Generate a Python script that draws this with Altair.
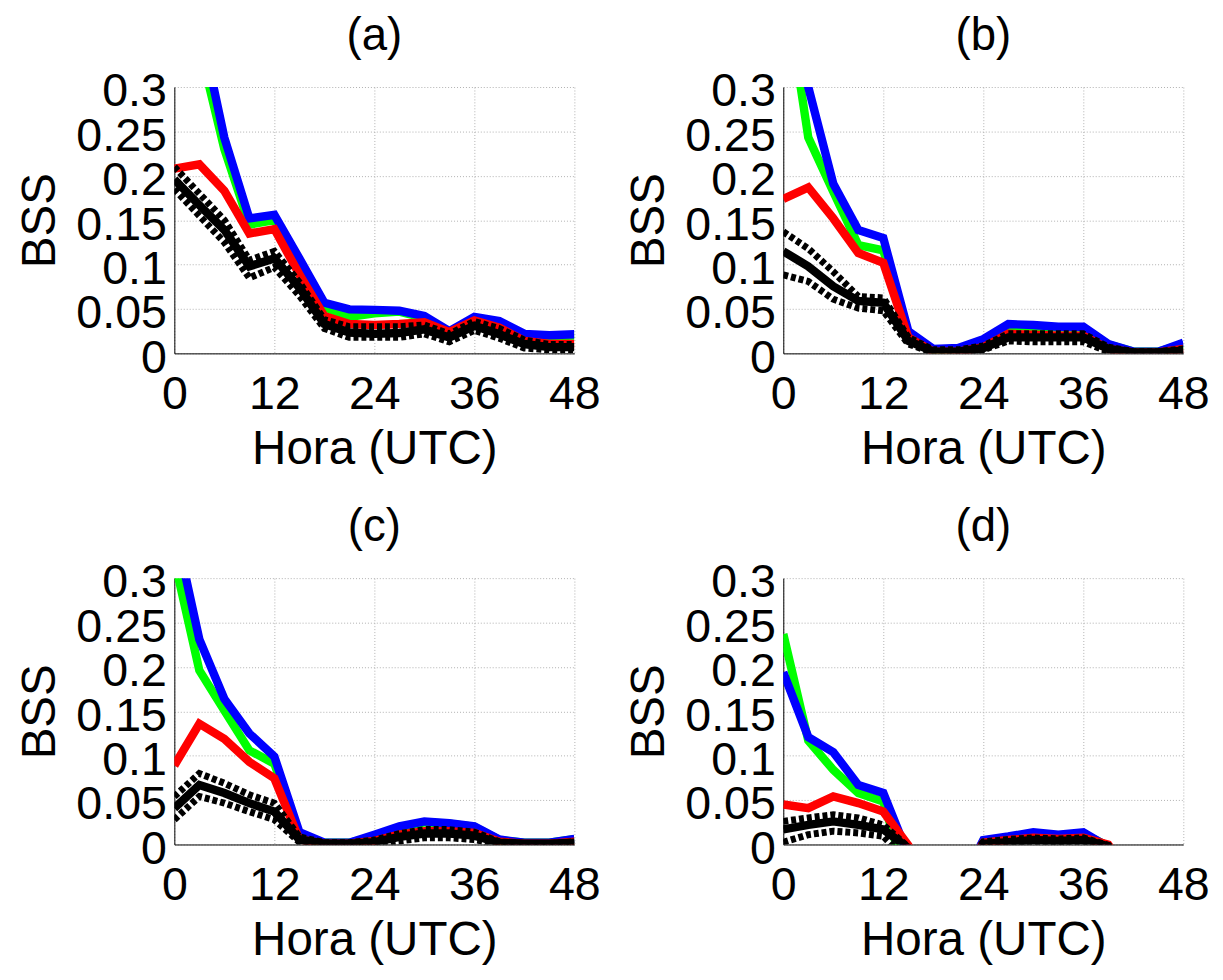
import altair as alt
import pandas as pd

HOURS = [0, 3, 6, 9, 12, 15, 18, 21, 24, 27, 30, 33, 36, 39, 42, 45, 48]
PANELS = ["(a)", "(b)", "(c)", "(d)"]
X_TICKS = [0, 12, 24, 36, 48]
Y_TICKS = [0, 0.05, 0.1, 0.15, 0.2, 0.25, 0.3]

# Panel (a)
A_GREEN = [0.40, 0.347, 0.230, 0.145, 0.150, 0.100, 0.052, 0.041, 0.045, 0.047, 0.040, 0.024, 0.040, 0.035, 0.021, 0.019, 0.020]
A_BLUE = [0.50, 0.375, 0.243, 0.152, 0.156, 0.107, 0.057, 0.0495, 0.049, 0.048, 0.042, 0.025, 0.041, 0.0365, 0.022, 0.0205, 0.0215]
A_RED = [0.208, 0.213, 0.183, 0.135, 0.140, 0.089, 0.042, 0.033, 0.032, 0.033, 0.035, 0.024, 0.037, 0.029, 0.014, 0.0105, 0.0105]
A_BLACK = [0.196, 0.167, 0.139, 0.098, 0.107, 0.074, 0.033, 0.0235, 0.022, 0.023, 0.027, 0.018, 0.031, 0.0215, 0.0105, 0.007, 0.007]
A_HI = [0.210, 0.180, 0.150, 0.105, 0.115, 0.080, 0.038, 0.030, 0.030, 0.030, 0.032, 0.022, 0.036, 0.028, 0.015, 0.010, 0.010]
A_LO = [0.185, 0.155, 0.125, 0.085, 0.097, 0.065, 0.028, 0.018, 0.018, 0.018, 0.022, 0.013, 0.026, 0.017, 0.006, 0.004, 0.004]

# Panel (b)
B_GREEN = [0.43, 0.243, 0.182, 0.122, 0.116, 0.020, 0.004, 0.005, 0.014, 0.031, 0.030, 0.029, 0.029, 0.010, 0.002, 0.002, 0.010]
B_BLUE = [0.40, 0.300, 0.191, 0.139, 0.130, 0.025, 0.005, 0.006, 0.016, 0.033, 0.032, 0.030, 0.030, 0.0105, 0.002, 0.002, 0.012]
B_RED = [0.174, 0.187, 0.152, 0.113, 0.102, 0.018, 0.002, 0.002, 0.007, 0.022, 0.021, 0.020, 0.020, 0.005, 0.001, 0.001, 0.005]
B_BLACK = [0.115, 0.098, 0.0755, 0.059, 0.057, 0.014, 0.002, 0.002, 0.006, 0.018, 0.018, 0.018, 0.018, 0.005, 0.001, 0.001, 0.003]
B_HI = [0.137, 0.118, 0.092, 0.064, 0.0625, 0.018, 0.004, 0.004, 0.0085, 0.022, 0.022, 0.022, 0.022, 0.007, 0.002, 0.002, 0.005]
B_LO = [0.0885, 0.081, 0.061, 0.051, 0.048, 0.0105, 0.001, 0.001, 0.004, 0.014, 0.013, 0.013, 0.013, 0.002, 0.0, 0.0, 0.001]

# Panel (c)
C_GREEN = [0.321, 0.196, 0.151, 0.106, 0.091, 0.009, 0.002, 0.002, 0.009, 0.019, 0.025, 0.0235, 0.020, 0.005, 0.002, 0.002, 0.006]
C_BLUE = [0.36, 0.231, 0.164, 0.125, 0.099, 0.014, 0.002, 0.002, 0.011, 0.0205, 0.026, 0.024, 0.0205, 0.0056, 0.002, 0.002, 0.0063]
C_RED = [0.089, 0.136, 0.119, 0.093, 0.0745, 0.0056, 0.001, 0.001, 0.004, 0.011, 0.015, 0.015, 0.013, 0.003, 0.001, 0.001, 0.003]
C_BLACK = [0.041, 0.067, 0.058, 0.0466, 0.037, 0.0056, 0.001, 0.001, 0.0026, 0.0086, 0.0123, 0.0123, 0.010, 0.002, 0.001, 0.001, 0.002]
C_HI = [0.054, 0.080, 0.069, 0.056, 0.0466, 0.0086, 0.002, 0.002, 0.005, 0.0123, 0.0168, 0.0168, 0.014, 0.003, 0.001, 0.001, 0.003]
C_LO = [0.028, 0.054, 0.0466, 0.037, 0.028, 0.0026, 0.0, 0.0, 0.001, 0.004, 0.0075, 0.0075, 0.0056, 0.0, 0.0, 0.0, 0.0]

# Panel (d)  (negative skill is clipped at the bottom of the axes)
D_GREEN = [0.237, 0.117, 0.084, 0.058, 0.0485, -0.045, -0.08, -0.05, 0.004, 0.008, 0.012, 0.010, 0.012, -0.002, -0.05, -0.08, -0.10]
D_BLUE = [0.194, 0.121, 0.104, 0.067, 0.058, -0.012, -0.08, -0.05, 0.005, 0.009, 0.0138, 0.011, 0.0138, -0.003, -0.05, -0.08, -0.10]
D_RED = [0.045, 0.041, 0.054, 0.0466, 0.037, -0.001, -0.05, -0.04, 0.002, 0.005, 0.0075, 0.0063, 0.0075, -0.0003, -0.04, -0.06, -0.08]
D_BLACK = [0.017, 0.022, 0.026, 0.022, 0.017, -0.004, -0.05, -0.04, 0.0007, 0.0026, 0.005, 0.004, 0.005, -0.002, -0.04, -0.06, -0.08]
D_HI = [0.026, 0.030, 0.0335, 0.030, 0.022, -0.003, -0.04, -0.03, 0.003, 0.0056, 0.0075, 0.0063, 0.0075, -0.001, -0.03, -0.05, -0.07]
D_LO = [0.0026, 0.011, 0.015, 0.013, 0.0093, -0.02, -0.06, -0.05, -0.002, 0.0007, 0.002, 0.001, 0.002, -0.005, -0.05, -0.07, -0.09]

PANEL_DATA = {
    "(a)": [A_GREEN, A_BLUE, A_RED, A_BLACK, A_HI, A_LO],
    "(b)": [B_GREEN, B_BLUE, B_RED, B_BLACK, B_HI, B_LO],
    "(c)": [C_GREEN, C_BLUE, C_RED, C_BLACK, C_HI, C_LO],
    "(d)": [D_GREEN, D_BLUE, D_RED, D_BLACK, D_HI, D_LO],
}
SERIES = ["green", "blue", "red", "black", "black_hi", "black_lo"]
COLORS = ["#00ff00", "#0000ff", "#ff0000", "#000000", "#000000", "#000000"]
DASHED = [False, False, False, False, True, True]

FONT = "Liberation Sans"
PW, PH = 404, 269


def panel(name):
    layers = []
    for s, vals, col, dashed in zip(SERIES, PANEL_DATA[name], COLORS, DASHED):
        df = pd.DataFrame({"hour": HOURS, "bss": vals})
        mk = dict(color=col, strokeWidth=8.5, clip=True, strokeCap="butt", strokeJoin="miter")
        if dashed:
            mk["strokeDash"] = [5, 3]
            mk["strokeWidth"] = 7
        layers.append(
            alt.Chart(df).mark_line(**mk).encode(
                x=alt.X("hour:Q", scale=alt.Scale(domain=[0, 48], nice=False, zero=False),
                        axis=alt.Axis(values=X_TICKS, title="Hora (UTC)")),
                y=alt.Y("bss:Q", scale=alt.Scale(domain=[0, 0.3], nice=False),
                        axis=alt.Axis(values=Y_TICKS, format="~g", title="BSS")),
            )
        )
    return alt.layer(*layers).properties(
        width=PW, height=PH,
        title=alt.TitleParams(name, fontSize=46, font=FONT, fontWeight="normal",
                              baseline="alphabetic", offset=-28, anchor="middle", color="black"),
    )


chart = alt.concat(
    *[panel(p) for p in PANELS], columns=2,
    spacing={"row": 227, "column": 211}, bounds="flush",
).configure_view(stroke=None).configure_axis(
    labelFont=FONT, labelFontSize=47, labelColor="black",
    titleFont=FONT, titleFontSize=48, titleFontWeight="normal", titleColor="black",
    domainColor="black", domainWidth=1,
    gridColor="#b0b0b0", gridDash=[1, 2], gridWidth=1,
    ticks=False, tickSize=0, labelOverlap=False, labelFlush=False, labelBound=False,
).configure_axisY(
    labelPadding=8, titlePadding=12, labelOffset=5,
).configure_axisX(
    labelPadding=19, titlePadding=8,
).properties(padding={"left": 8, "top": 1, "right": 5, "bottom": 5})

chart.save("out.html", embed_options={"renderer": "svg", "actions": False})
